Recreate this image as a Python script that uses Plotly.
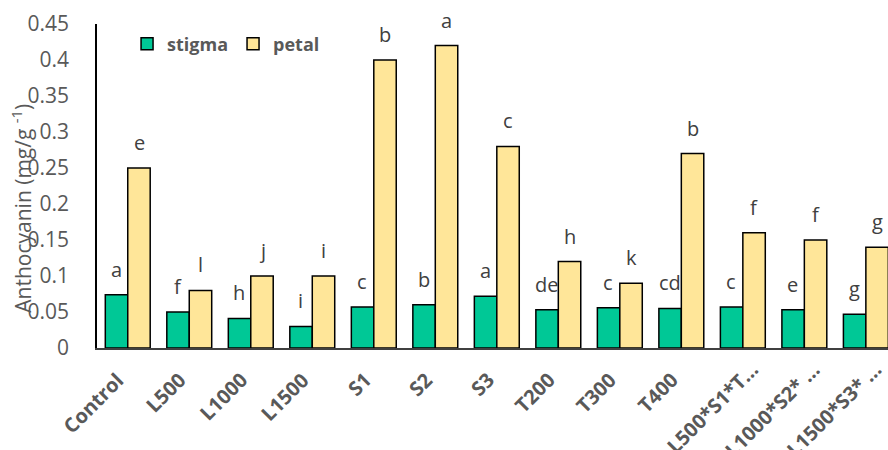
import plotly.graph_objects as go

categories = ["Control", "L500", "L1000", "L1500", "S1", "S2", "S3", "T200", "T300", "T400",
              "L500*S1*T…", "L1000*S2* …", "L1500*S3* …"]
stigma = [0.074, 0.050, 0.041, 0.030, 0.057, 0.060, 0.072, 0.053, 0.056, 0.055, 0.057, 0.053, 0.047]
petal = [0.25, 0.08, 0.10, 0.10, 0.40, 0.42, 0.28, 0.12, 0.09, 0.27, 0.16, 0.15, 0.14]
stigma_letters = ["a", "f", "h", "i", "c", "b", "a", "de", "c", "cd", "c", "e", "g"]
petal_letters = ["e", "l", "j", "i", "b", "a", "c", "h", "k", "b", "f", "f", "g"]
y_ticks = [0, 0.05, 0.1, 0.15, 0.2, 0.25, 0.3, 0.35, 0.4, 0.45]
y_ticktext = ["0", "0.05", "0.1", "0.15", "0.2", "0.25", "0.3", "0.35", "0.4", "0.45"]

xi = list(range(len(categories)))
grey = "#595959"

fig = go.Figure()
fig.add_trace(go.Bar(x=xi, y=stigma, name="stigma",
                     marker=dict(color="#00C896", line=dict(color="black", width=1.5))))
fig.add_trace(go.Bar(x=xi, y=petal, name="petal",
                     marker=dict(color="#FFE699", line=dict(color="black", width=1.5))))

annotations = []
for i in xi:
    annotations.append(dict(x=i, y=stigma[i], text=stigma_letters[i], xshift=-11.5, yshift=10,
                            yanchor="bottom", showarrow=False, font=dict(size=20, color="#404040")))
    annotations.append(dict(x=i, y=petal[i], text=petal_letters[i], xshift=11.5, yshift=10,
                            yanchor="bottom", showarrow=False, font=dict(size=20, color="#404040")))
    # category labels (rotated), truncated ones sit a bit higher/right as in the original
    truncated = "…" in categories[i]
    annotations.append(dict(x=i, y=0, yref="y", text="<b>" + categories[i] + "</b>",
                            textangle=-45, xanchor="right", yanchor="top", showarrow=False,
                            xshift=24 if truncated else 5, yshift=-5 if truncated else -16,
                            font=dict(size=20, color=grey)))

annotations.append(dict(x=0, xref="paper", y=0.43, yref="paper", xanchor="center", yanchor="middle",
                        text="Anthocyanin (mg/g <sup>-1</sup>)", textangle=-90,
                        xshift=-75, showarrow=False, font=dict(size=21, color=grey)))

fig.update_layout(
    width=888, height=450,
    margin=dict(l=97, r=0, t=24, b=102, autoexpand=False),
    paper_bgcolor="white", plot_bgcolor="white",
    barmode="group", bargap=0.27, bargroupgap=0,
    font=dict(family="Open Sans, Noto Sans, sans-serif", color=grey),
    legend=dict(orientation="h", x=0.038, y=0.995, xanchor="left", yanchor="top",
                font=dict(size=18, color=grey, weight="bold"), bgcolor="rgba(0,0,0,0)",
                traceorder="normal"),
    annotations=annotations,
    showlegend=True,
)
fig.update_xaxes(
    tickmode="array", tickvals=xi, ticktext=[""] * len(xi), automargin=False,
    range=[-0.5, 12.36], showline=True, linecolor="#404040", linewidth=1.5,
    ticks="", showgrid=False, zeroline=False,
)
fig.update_yaxes(
    range=[0, 0.45], tickvals=y_ticks, ticktext=y_ticktext,
    automargin=False,
    showline=True, linecolor="black", linewidth=1.5, showgrid=False, zeroline=False,
    ticks="outside", ticklen=22, tickcolor="rgba(0,0,0,0)",
    tickfont=dict(size=21, color=grey),
)
fig.write_html("out.html", config={"displayModeBar": False},
               post_script="document.body.style.margin='0';document.documentElement.style.overflow='hidden';")
